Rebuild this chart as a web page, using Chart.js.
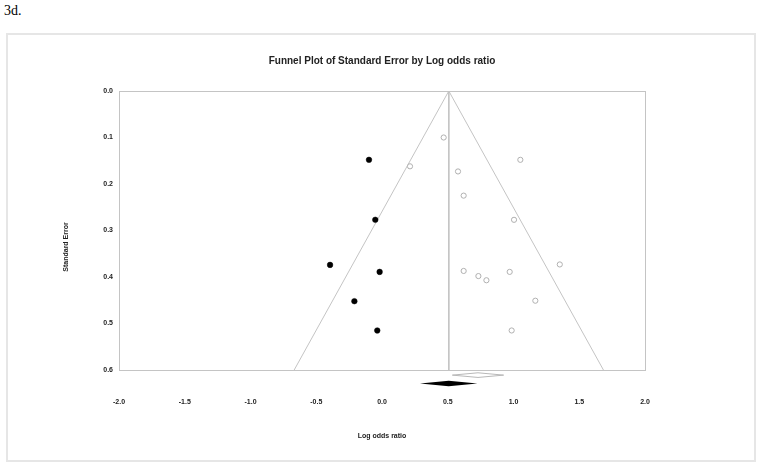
<!DOCTYPE html>
<html>
<head>
<meta charset="utf-8">
<script src="https://cdn.jsdelivr.net/npm/chart.js@4/dist/chart.umd.min.js"></script>
<style>
  html, body { margin: 0; padding: 0; background: #fff; }
  #wrap { position: relative; width: 762px; height: 467px; overflow: hidden; }
  #label3d { position: absolute; left: 4px; top: 4px; font: 14px/14px "Liberation Serif", "DejaVu Serif", serif; color: #000; }
  #frame { position: absolute; left: 6px; top: 33px; width: 746px; height: 425px; border: 2px solid #e6e6e6; }
  #c { position: absolute; left: 0; top: 0; }
</style>
</head>
<body>
<div id="wrap">
  <div id="label3d">3d.</div>
  <div id="frame"></div>
  <canvas id="c" width="762" height="467"></canvas>
</div>
<script>
// ---- data ----
const chartTitle = "Funnel Plot of Standard Error by Log odds ratio";
const xTitle = "Log odds ratio";
const yTitle = "Standard Error";

// observed studies (open circles)
const observedLogOR = [0.469, 0.213, 0.578, 0.621, 0.621, 0.733, 1.052, 1.004, 1.352, 0.971, 0.794, 1.166, 0.986];
const observedSE    = [0.100, 0.162, 0.173, 0.225, 0.387, 0.398, 0.148, 0.277, 0.373, 0.389, 0.407, 0.451, 0.515];

// imputed studies (filled circles)
const imputedLogOR = [-0.099, -0.051, -0.395, -0.018, -0.210, -0.036];
const imputedSE    = [0.148, 0.277, 0.374, 0.389, 0.452, 0.515];

// funnel centre and limits
const funnelCenter = 0.508;
const funnelMaxSE = 0.6;
const funnelZ = 1.96;

// summary diamonds: [observed, adjusted]
const summaryCenter = [0.730, 0.507];
const summaryLower  = [0.535, 0.289];
const summaryUpper  = [0.925, 0.725];
const summaryRow    = [0.611, 0.629];
const summaryHalfHeight = [0.005, 0.006];
const summaryFilled = [false, true];

const xMin = -2.0, xMax = 2.0, xStep = 0.5;
const yMin = 0.0, yMax = 0.6, yStep = 0.1;

// ---- build datasets ----
const toPts = (xs, ys) => xs.map((x, i) => ({ x: x, y: ys[i] }));

const funnelPts = [
  { x: funnelCenter - funnelZ * funnelMaxSE, y: funnelMaxSE },
  { x: funnelCenter, y: 0 },
  { x: funnelCenter + funnelZ * funnelMaxSE, y: funnelMaxSE }
];
const centerPts = [{ x: funnelCenter, y: 0 }, { x: funnelCenter, y: funnelMaxSE }];

const lineGrey = '#c4c4c4';

const framePlugin = {
  id: 'frame',
  beforeDatasetsDraw(chart) {
    const { ctx, chartArea: a } = chart;
    ctx.save();
    ctx.strokeStyle = lineGrey;
    ctx.lineWidth = 1;
    ctx.strokeRect(Math.round(a.left) + 0.5, Math.round(a.top) + 0.5, Math.round(a.right - a.left), Math.round(a.bottom - a.top));
    ctx.restore();
  }
};

const diamondPlugin = {
  id: 'diamonds',
  afterDatasetsDraw(chart) {
    const { ctx, scales: { x, y } } = chart;
    ctx.save();
    for (let i = 0; i < summaryCenter.length; i++) {
      const xc = x.getPixelForValue(summaryCenter[i]);
      const xl = x.getPixelForValue(summaryLower[i]);
      const xu = x.getPixelForValue(summaryUpper[i]);
      const yc = y.getPixelForValue(summaryRow[i]);
      const yt = y.getPixelForValue(summaryRow[i] - summaryHalfHeight[i]);
      const yb = y.getPixelForValue(summaryRow[i] + summaryHalfHeight[i]);
      ctx.beginPath();
      ctx.moveTo(xl, yc);
      ctx.lineTo(xc, yt);
      ctx.lineTo(xu, yc);
      ctx.lineTo(xc, yb);
      ctx.closePath();
      if (summaryFilled[i]) {
        ctx.fillStyle = '#000';
        ctx.fill();
      } else {
        ctx.strokeStyle = '#b8b8b8';
        ctx.lineWidth = 1;
        ctx.stroke();
      }
    }
    ctx.restore();
  }
};

const yTitlePlugin = {
  id: 'yTitle',
  afterDraw(chart) {
    const { ctx } = chart;
    ctx.save();
    ctx.translate(66, 247);
    ctx.rotate(-Math.PI / 2);
    ctx.font = 'bold 7px "Liberation Sans", Arial, sans-serif';
    ctx.fillStyle = '#222';
    ctx.textAlign = 'center';
    ctx.textBaseline = 'middle';
    ctx.fillText(yTitle, 0, 0);
    ctx.restore();
  }
};

new Chart(document.getElementById('c'), {
  type: 'scatter',
  data: {
    datasets: [
      {
        label: 'Funnel',
        data: funnelPts,
        showLine: true,
        borderColor: lineGrey,
        borderWidth: 1,
        pointRadius: 0,
        fill: false,
        order: 5
      },
      {
        label: 'Centre',
        data: centerPts,
        showLine: true,
        borderColor: lineGrey,
        borderWidth: 1,
        pointRadius: 0,
        fill: false,
        order: 4
      },
      {
        label: 'Observed',
        data: toPts(observedLogOR, observedSE),
        pointStyle: 'circle',
        pointRadius: 2.6,
        pointBorderWidth: 1,
        pointBorderColor: '#b0b0b0',
        pointBackgroundColor: '#ffffff',
        order: 2
      },
      {
        label: 'Imputed',
        data: toPts(imputedLogOR, imputedSE),
        pointStyle: 'circle',
        pointRadius: 2.8,
        pointBorderWidth: 0.5,
        pointBorderColor: '#000',
        pointBackgroundColor: '#000',
        order: 1
      }
    ]
  },
  options: {
    responsive: false,
    animation: false,
    devicePixelRatio: 1,
    layout: { padding: { left: 0, right: 117, top: 0, bottom: 0 } },
    plugins: {
      legend: { display: false },
      tooltip: { enabled: false },
      title: {
        display: true,
        text: chartTitle,
        fullSize: false,
        color: '#222',
        font: { family: '"Liberation Sans", Arial, sans-serif', size: 10, weight: 'bold', lineHeight: 1.2 },
        padding: { top: 55.7, bottom: 23.3 }
      }
    },
    scales: {
      x: {
        type: 'linear',
        min: xMin, max: xMax,
        afterFit(s) { s.height = 97; },
        afterBuildTicks(s) {
          const t = [];
          for (let v = xMin; v <= xMax + 1e-9; v += xStep) t.push({ value: Math.round(v * 10) / 10 });
          s.ticks = t;
        },
        grid: { display: false, drawTicks: false, tickLength: 0 },
        border: { display: true, color: lineGrey, width: 1 },
        ticks: {
          padding: 27.5,
          color: '#222',
          font: { family: '"Liberation Sans", Arial, sans-serif', size: 7, weight: 'bold' },
          callback: (v) => Number(v).toFixed(1),
          maxRotation: 0
        },
        title: {
          display: true,
          text: xTitle,
          color: '#222',
          font: { family: '"Liberation Sans", Arial, sans-serif', size: 7, weight: 'bold' },
          padding: { top: 0, bottom: 27 }
        }
      },
      y: {
        type: 'linear',
        reverse: true,
        min: yMin, max: yMax,
        afterFit(s) { s.width = 119; },
        afterBuildTicks(s) {
          const t = [];
          for (let v = yMin; v <= yMax + 1e-9; v += yStep) t.push({ value: Math.round(v * 10) / 10 });
          s.ticks = t;
        },
        grid: { display: false, drawTicks: false, tickLength: 0 },
        border: { display: true, color: lineGrey, width: 1 },
        ticks: {
          padding: 6,
          color: '#222',
          font: { family: '"Liberation Sans", Arial, sans-serif', size: 7, weight: 'bold' },
          callback: (v) => Number(v).toFixed(1)
        },
        title: { display: false }
      }
    }
  },
  plugins: [framePlugin, diamondPlugin, yTitlePlugin]
});
</script>
</body>
</html>
